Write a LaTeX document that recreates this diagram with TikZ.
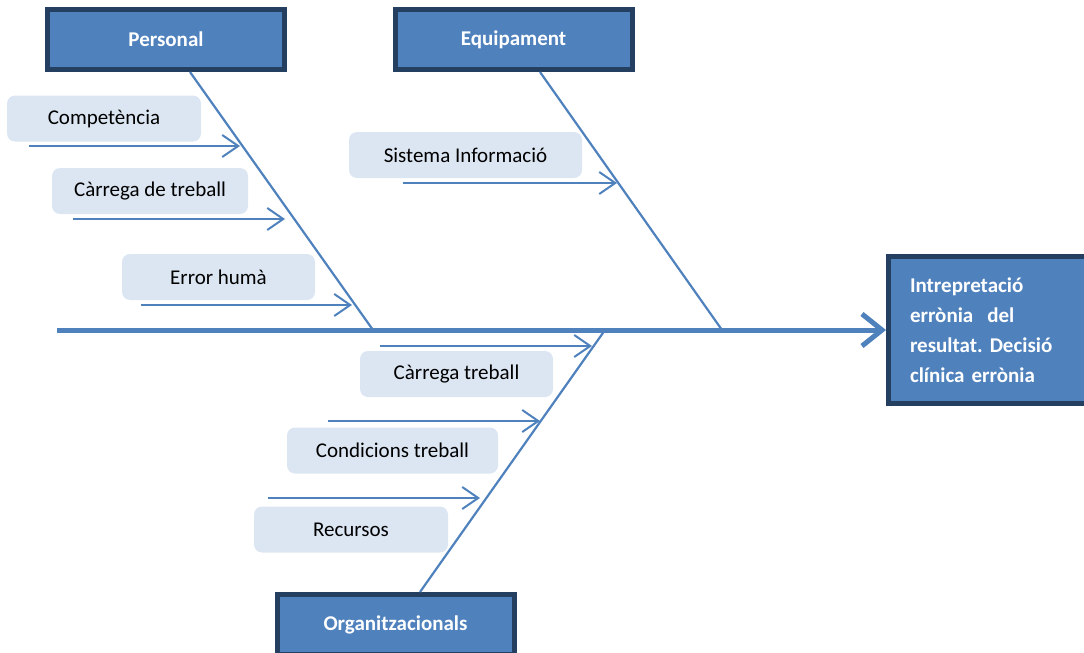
\documentclass[tikz,border=0pt]{standalone}
\usepackage{fontspec}
\setmainfont{Carlito}
\usetikzlibrary{arrows.meta}
\definecolor{boneblue}{HTML}{4F81BD}
\definecolor{darknavy}{HTML}{243F60}
\definecolor{softblue}{HTML}{DCE6F2}
\tikzset{
  category/.style={draw=darknavy, line width=5pt, fill=boneblue, text=white, font=\bfseries\fontsize{21}{25}\selectfont, align=center, minimum width=237pt, minimum height=60pt, inner sep=0pt},
  effect/.style={draw=darknavy, line width=5pt, fill=boneblue, text=white, font=\bfseries\fontsize{21}{30}\selectfont\frenchspacing, align=left, text width=158pt, inner xsep=21.5pt, minimum height=147pt},
  causebox/.style={fill=softblue, rounded corners=8pt, align=center, minimum height=46pt, inner sep=0pt},
  spine/.style={draw=boneblue, line width=5pt, -{Straight Barb[length=20pt,width=32pt]}},
  bone/.style={draw=boneblue, line width=2.2pt},
  subarrow/.style={draw=boneblue, line width=2pt, -{Straight Barb[length=16pt,width=22pt]}}
}
\begin{document}
\begin{tikzpicture}[x=1pt, y=-1pt, font=\fontsize{21}{25}\selectfont]
  \useasboundingbox (0,0) rectangle (1084,653);

  % categories and effect
  \node[category] (personal) at (166,39.5) {Personal};
  \node[category] (equip) at (513.5,39.5) {Equipament};
  \node[category] (organ) at (395.5,624.5) {Organitzacionals};
  \node[effect] (effect) at (989,330) {Intrepretació\\errònia~ del\\resultat. Decisió\\clínica errònia};

  % spine
  \coordinate (tail) at (57,330);
  \draw[spine] (tail) -- (effect.west);

  % bones
  \coordinate (p-head) at (373,330);
  \coordinate (e-head) at (722,330);
  \coordinate (o-head) at (605,330);
  \draw[bone] ([xshift=24pt]personal.south) -- (p-head);
  \draw[bone] ([xshift=26.5pt]equip.south) -- (e-head);
  \draw[bone] (o-head) -- ([xshift=24.5pt]organ.north);

  % causes
  \node[causebox, minimum width=194pt] (comp) at (104,118.5) {Competència};
  \node[causebox, minimum width=196pt] (carrega) at (150,191) {Càrrega de treball};
  \node[causebox, minimum width=193pt] (error) at (218.5,277) {Error humà};
  \node[causebox, minimum width=233pt] (sistema) at (465.5,155) {Sistema Informació};
  \node[causebox, minimum width=193pt] (carregaorg) at (456.5,374) {Càrrega treball};
  \node[causebox, minimum width=211pt] (condicions) at (392.5,450.5) {Condicions treball};
  \node[causebox, minimum width=194pt] (recursos) at (351,529.5) {Recursos};

  % cause arrows
  \coordinate (comp-s) at (29,146);        \coordinate (comp-e) at (240,146);
  \coordinate (carrega-s) at (73,219);     \coordinate (carrega-e) at (285,219);
  \coordinate (error-s) at (141,305);      \coordinate (error-e) at (352,305);
  \coordinate (sistema-s) at (403,183);    \coordinate (sistema-e) at (617,183);
  \coordinate (carregaorg-s) at (380,346); \coordinate (carregaorg-e) at (592,346);
  \coordinate (condicions-s) at (328,421); \coordinate (condicions-e) at (540,421);
  \coordinate (recursos-s) at (268,498);   \coordinate (recursos-e) at (480,498);
  \foreach \c in {comp,carrega,error,sistema,carregaorg,condicions,recursos}
    \draw[subarrow] (\c-s) -- (\c-e);
\end{tikzpicture}
\end{document}
